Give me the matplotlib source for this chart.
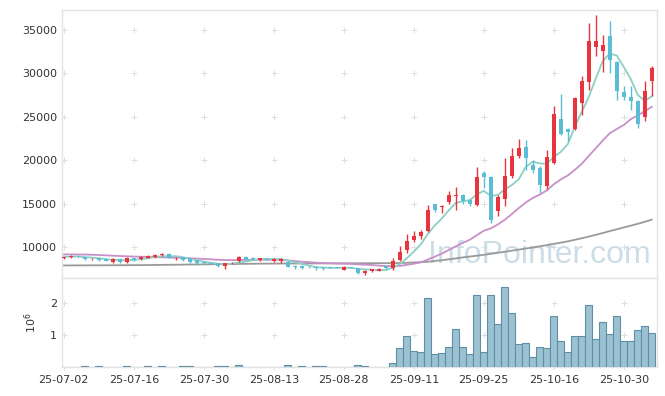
import numpy as np
import matplotlib
matplotlib.use("Agg")
import matplotlib.pyplot as plt

# ─── Data ─────────────────────────────────────────────────────────────────────
tick_labels = ['25-07-02', '25-07-16', '25-07-30', '25-08-13', '25-08-28',
               '25-09-11', '25-09-25', '25-10-16', '25-10-30']

opens = [8760, 8800, 8960, 8840, 8590, 8730, 8650, 8230, 8650, 8230,
         8730, 8610, 8730, 8800, 9090, 9230, 8720, 8800, 8690, 8500,
         8270, 8190, 8190, 7770, 8140, 8345, 8880, 8660, 8460, 8650,
         8350, 8420, 8270, 7750, 7850, 7700, 7700, 7690, 7690, 7600,
         7350, 7690, 7580, 6960, 7190, 7270, 7760, 7580, 8460, 9612,
         10765, 11225, 11801, 14988, 14604, 15142, 15834, 15988, 15449, 14796,
         18521, 18099, 14105, 15526, 18137, 20441, 21516, 19443, 19059, 16985,
         19673, 24742, 23628, 23590, 26585, 28966, 33000, 32537, 34342, 31308,
         27891, 27276, 26854, 24972, 29081]
highs = [8900, 9050, 9100, 8880, 8730, 8760, 8700, 8680, 8680, 8800,
         8760, 8920, 9050, 9150, 9300, 9260, 8880, 8830, 8720, 8530,
         8290, 8210, 8210, 8200, 8260, 8950, 9000, 8800, 8720, 8680,
         8750, 8680, 8350, 7960, 7960, 7760, 7780, 7720, 7720, 7650,
         7760, 7720, 7600, 7300, 7450, 7530, 7800, 8730, 10073, 11494,
         11801, 11993, 14796, 15000, 14850, 16486, 16870, 16050, 15500, 19212,
         18713, 18150, 16025, 20249, 21401, 22438, 22361, 20057, 19289, 21209,
         26278, 27660, 23700, 27250, 29734, 35801, 36761, 34457, 35993, 31400,
         28582, 28582, 26900, 29081, 30886]
lows = [8650, 8750, 8870, 8540, 8460, 8440, 8350, 8200, 8200, 8200,
        8345, 8500, 8700, 8780, 8920, 8700, 8540, 8440, 8200, 7960,
        8080, 8000, 7650, 7500, 8080, 8320, 8520, 8530, 8440, 8500,
        8330, 8110, 7650, 7460, 7500, 7600, 7350, 7350, 7550, 7530,
        7330, 7550, 6940, 6800, 7150, 7250, 7500, 7380, 8400, 9305,
        10534, 10956, 11700, 13990, 13913, 14950, 14297, 14988, 14681, 14750,
        16793, 12761, 13606, 14758, 17945, 20300, 18905, 18521, 16217, 16678,
        19600, 22900, 22169, 23500, 25241, 28121, 31961, 30118, 30041, 26969,
        26892, 25817, 23705, 24473, 27353]
closes = [8790, 8990, 8930, 8575, 8620, 8460, 8380, 8650, 8230, 8770,
          8540, 8840, 9000, 9110, 9120, 8730, 8750, 8460, 8230, 8110,
          8110, 8040, 7810, 8190, 8180, 8880, 8540, 8620, 8690, 8540,
          8610, 8650, 7730, 7730, 7620, 7680, 7580, 7540, 7580, 7580,
          7730, 7580, 6960, 7270, 7420, 7500, 7540, 8345, 9382, 10726,
          11302, 11763, 14297, 14297, 14758, 16025, 15988, 15296, 14911, 18060,
          18060, 13145, 15718, 18213, 20518, 21401, 20211, 18828, 17177, 20364,
          25356, 23052, 23244, 27161, 29081, 33766, 33766, 33305, 31500, 27929,
          27238, 26777, 24166, 28006, 30617]

ma5 = [8880, 8890, 8900, 8840, 8781, 8715, 8593, 8537, 8468, 8498,
       8514, 8606, 8676, 8852, 8922, 8960, 8942, 8834, 8658, 8456,
       8332, 8190, 8060, 8052, 8066, 8220, 8320, 8482, 8582, 8654,
       8600, 8622, 8444, 8252, 8068, 7882, 7668, 7630, 7600, 7592,
       7602, 7602, 7486, 7424, 7392, 7346, 7338, 7615, 8037, 8699,
       9459, 10304, 11494, 12477, 13283, 14228, 15073, 15273, 15396, 16056,
       16463, 15894, 15979, 16639, 17131, 17799, 19212, 19834, 19627, 19596,
       20387, 20955, 21839, 23835, 25579, 27261, 29404, 31416, 32284, 32053,
       30748, 29350, 27522, 26823, 27361]
ma20 = [9150, 9150, 9140, 9130, 9110, 9080, 9040, 9000, 8960, 8930,
        8900, 8880, 8860, 8840, 8820, 8790, 8760, 8730, 8700, 8664,
        8630, 8583, 8527, 8508, 8486, 8507, 8515, 8513, 8536, 8525,
        8528, 8519, 8455, 8386, 8311, 8259, 8200, 8154, 8122, 8095,
        8076, 8053, 8011, 7965, 7927, 7858, 7808, 7794, 7828, 7938,
        8072, 8228, 8556, 8885, 9242, 9659, 10079, 10467, 10834, 11358,
        11874, 12152, 12590, 13137, 13792, 14487, 15121, 15645, 16035, 16517,
        17219, 17784, 18231, 18874, 19590, 20478, 21366, 22267, 23096, 23590,
        24049, 24730, 25153, 25642, 26147]
ma_long = [7880, 7880, 7885, 7885, 7890, 7890, 7895, 7900, 7900, 7905,
           7910, 7915, 7920, 7930, 7940, 7950, 7960, 7970, 7980, 7990,
           8000, 8010, 8020, 8030, 8040, 8050, 8060, 8070, 8080, 8085,
           8090, 8095, 8100, 8100, 8105, 8110, 8110, 8115, 8120, 8120,
           8125, 8130, 8130, 8135, 8135, 8140, 8140, 8145, 8150, 8180,
           8220, 8260, 8300, 8390, 8480, 8580, 8690, 8800, 8900, 9000,
           9100, 9210, 9330, 9450, 9580, 9700, 9830, 9950, 10080, 10220,
           10360, 10500, 10650, 10830, 11010, 11200, 11400, 11610, 11830, 12040,
           12250, 12460, 12670, 12900, 13150]

volume = [8000, 6000, 7000, 20000, 7000, 20000, 6000, 5000, 7000, 20000,
          6000, 7000, 20000, 7000, 20000, 6000, 7000, 20000, 20000, 6000,
          5000, 6000, 20000, 20000, 7000, 60000, 6000, 5000, 6000, 7000,
          5000, 6000, 60000, 7000, 20000, 6000, 20000, 20000, 6000, 5000,
          7000, 6000, 50000, 20000, 6000, 7000, 8000, 120000, 590000, 960000,
          490000, 470000, 2160000, 400000, 430000, 620000, 1210000, 620000, 400000, 2250000,
          460000, 2250000, 1340000, 2530000, 1690000, 710000, 740000, 300000, 620000, 590000,
          1590000, 810000, 460000, 990000, 990000, 1940000, 870000, 1430000, 1040000, 1590000,
          810000, 810000, 1150000, 1280000, 1060000]

# ─── Style ────────────────────────────────────────────────────────────────────
UP = '#e8343c'
DOWN = '#5bbcd6'
GRID = '#d9d9d9'
SPINE = '#e3e3e3'
TXT = '#333333'

o = np.array(opens, float)
h = np.array(highs, float)
l = np.array(lows, float)
c = np.array(closes, float)
x = np.arange(len(c))
up = c >= o
col = np.where(up, UP, DOWN)

fig = plt.figure(figsize=(6.65, 3.96), dpi=100)
W, H = 665, 396
ax = fig.add_axes([62 / W, 1 - 278 / H, 595 / W, 268 / H])
axv = fig.add_axes([62 / W, 1 - 367 / H, 595 / W, 89 / H], sharex=ax)

# watermark
ax.text(0.615, 0.085, 'InfoPointer.com', transform=ax.transAxes,
        fontsize=23, family='Liberation Sans', color='#cddde7',
        va='center', ha='left', zorder=1)

# moving averages
ax.plot(x, ma_long, color='#9a9a9a', lw=1.3, zorder=2)
ax.plot(x, ma20, color='#c98fc9', lw=1.3, zorder=2)
ax.plot(x, ma5, color='#8ccfc4', lw=1.3, zorder=2)

# candles
ax.vlines(x, l, h, colors=col, lw=1.0, zorder=3)
body = np.maximum(np.abs(c - o), 60)
ax.bar(x, body, bottom=np.minimum(o, c), width=0.62, color=col,
       linewidth=0, zorder=4)

# volume
axv.bar(x, volume, width=1.0, color='#9cc2d2', edgecolor='#5d8fa6',
        linewidth=0.8, zorder=3)

xt = np.arange(0, len(c), 10)
ax.set_xlim(-0.25, 84.75)
ax.set_ylim(6430, 37300)
yt = np.arange(10000, 35001, 5000)
ax.set_yticks(yt)
ax.set_yticklabels([str(v) for v in yt])
axv.set_ylim(0, 2.8e6)
vt = [1e6, 2e6]
axv.set_yticks(vt)
axv.set_yticklabels(['1', '2'])
axv.set_xticks(xt)
axv.set_xticklabels(tick_labels)
axv.set_ylabel('$10^6$', color=TXT, fontsize=8, labelpad=8)

# plus-shaped grid marks at tick intersections
gx, gy = np.meshgrid(xt, yt)
ax.scatter(gx.ravel(), gy.ravel(), marker='+', s=14, color=GRID, lw=0.6, zorder=0)
gx, gy = np.meshgrid(xt, vt)
axv.scatter(gx.ravel(), gy.ravel(), marker='+', s=14, color=GRID, lw=0.6, zorder=0)

for a in (ax, axv):
    for s in a.spines.values():
        s.set_color(SPINE)
        s.set_linewidth(1.0)
    a.tick_params(colors=SPINE, labelcolor=TXT, labelsize=8, length=2, width=0.8)
ax.tick_params(axis='x', labelbottom=False, length=0)
ax.tick_params(axis='y', length=0)
axv.tick_params(axis='y', length=0)

fig.savefig('out.png', dpi=100)
